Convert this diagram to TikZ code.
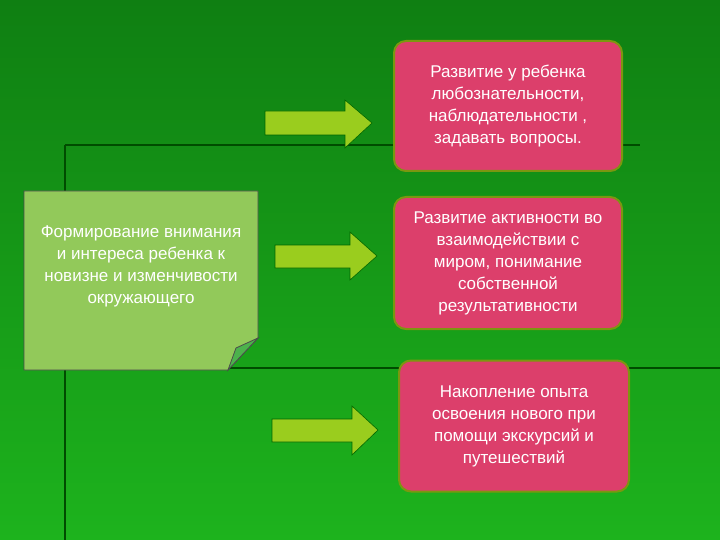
\documentclass[tikz,border=0pt]{standalone}
\usepackage{fontspec}
\setmainfont{Liberation Sans}
\begin{document}
\begin{tikzpicture}[x=1pt,y=-1pt,
  pinkbox/.style={draw=olive!70!green,line width=2pt,fill=pinkc,rounded corners=12pt,text=white,align=center,font=\fontsize{17}{22}\selectfont},
  arr/.style={fill=limec,draw=green!40!black,line width=0.6pt}]
\definecolor{pinkc}{HTML}{DC3F6B}
\definecolor{limec}{HTML}{9ACD1E}
\definecolor{notec}{HTML}{92C95A}
\definecolor{bgtop}{HTML}{0F7F12}
\definecolor{bgbot}{HTML}{1DB31D}
\useasboundingbox (0,0) rectangle (720,540);
\shade[shading=axis,shading angle=200,top color=bgtop,bottom color=bgbot] (0,0) rectangle (720,540);
\draw[green!30!black,line width=1.5pt] (65,145)--(640,145) (65,145)--(65,540) (65,368)--(720,368);
% note
\fill[notec,draw=gray!60!black,line width=0.8pt] (24,191)--(258,191)--(258,338)--(228,370)--(24,370)--cycle;
\fill[green!40!gray,draw=gray!60!black,line width=0.8pt] (258,338)--(236,348)--(228,370)--cycle;
\node (n) [text=white,align=center,font=\fontsize{17}{22}\selectfont] at (141,266) {Формирование  внимания\\и интереса ребенка к\\новизне и изменчивости\\окружающего};
% boxes
\node (b1)[pinkbox,minimum width=228pt,minimum height=130pt] at (508,106) {Развитие у ребенка\\любознательности,\\наблюдательности ,\\задавать вопросы.};
\node (b2)[pinkbox,minimum width=228pt,minimum height=132pt] at (508,263) {Развитие активности во\\взаимодействии с\\миром, понимание\\собственной\\результативности};
\node (b3)[pinkbox,minimum width=230pt,minimum height=131pt] at (514,426) {Накопление опыта\\освоения нового при\\помощи экскурсий и\\путешествий};
% arrows
\draw[arr] (265,111)--(345,111)--(345,100)--(372,123)--(345,148)--(345,135)--(265,135)--cycle;
\draw[arr] (275,245)--(350,245)--(350,232)--(377,256)--(350,280)--(350,268)--(275,268)--cycle;
\draw[arr] (272,419)--(352,419)--(352,406)--(378,430)--(352,455)--(352,442)--(272,442)--cycle;
\end{tikzpicture}
\end{document}
